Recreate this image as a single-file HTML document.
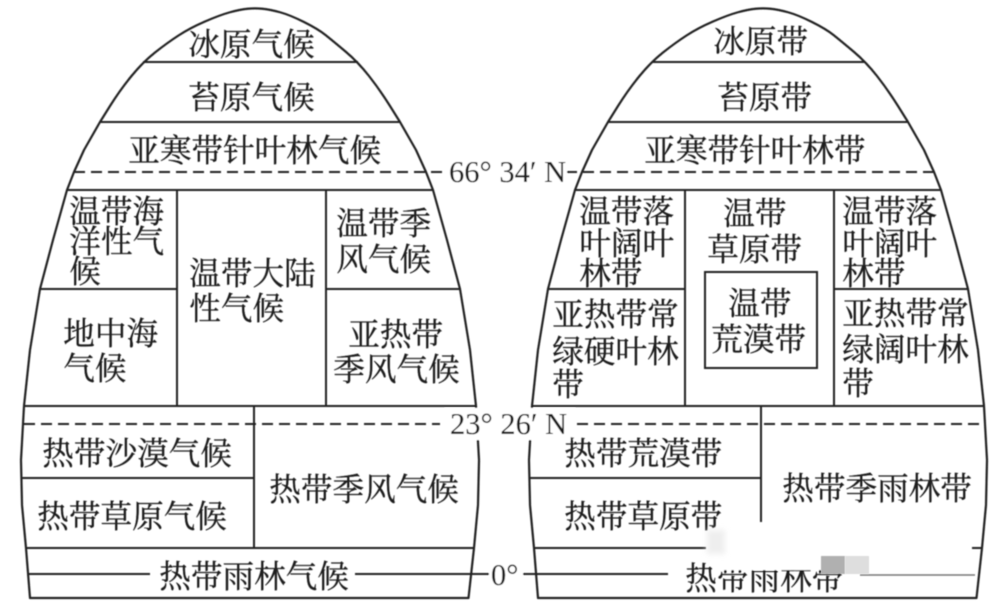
<!DOCTYPE html>
<html><head><meta charset="utf-8">
<style>
html,body{margin:0;padding:0;background:#fff;width:1000px;height:606px;overflow:hidden}
svg{display:block}
text{font-family:"Liberation Serif","Noto Serif CJK SC",serif;font-size:31.6px;fill:#1c1c1c;stroke:#1c1c1c;stroke-width:.3}
text.n{font-size:30.5px;stroke-width:.1}
.s{fill:none;stroke:#222;stroke-width:2.2;stroke-linejoin:round}
.l{stroke:#222;stroke-width:2}
.d{stroke:#222;stroke-width:2;stroke-dasharray:11 6}
</style></head><body>
<svg width="1000" height="606" viewBox="0 0 1000 606" xmlns="http://www.w3.org/2000/svg">
<defs>
<filter id="b" filterUnits="userSpaceOnUse" x="0" y="0" width="1000" height="606"><feGaussianBlur stdDeviation="0.45"/></filter>
<filter id="b2" filterUnits="userSpaceOnUse" x="680" y="510" width="70" height="70"><feGaussianBlur stdDeviation="3"/></filter>
<path id="egg" d="M30 598L26 548L22 505L21 460L24 406L30 350L40 289L53 240L67 190L74 172L84 150L100 122L110 106Q120 90 131.5 76Q143 62 155 52.5Q167 43 178.5 35.5Q190 28 205 21.5Q220 15 230 12.25Q240 9.5 247.5 8.75Q255 8 262.5 8.75Q270 9.5 280 12.25Q290 15 304 22Q318 29 325.5 35Q333 41 345.5 51.5Q358 62 369 76Q380 90 390 106L400 122L416 150L426 172L433 190L447 240L460 289L470 350L476 406L479 460L478 505L474 548L468.5 598Z"/>
</defs>
<rect width="1000" height="606" fill="#fff"/>
<g filter="url(#b)">
<!-- left shape -->
<use href="#egg" class="s"/>
<path class="l" d="M143 62H358M100 122H400M67 190H433M24 406H476M177 190V406M326 190V406M40 289H177M326 289H460M254 406V548M22 478H254M26 548H474"/>
<path class="d" d="M74 172H442M24 424H440"/>
<path class="l" d="M27 574H150M355 574H490"/>
<!-- right shape -->
<use href="#egg" class="s" transform="translate(508,0)"/>
<path class="l" d="M652 62H865M608 122H908M575 190H941M532 406H984M685 190V406M834 190V406M548 289H685M834 289H968M761 406V522M530 478H761M534 548H706M972 548H982"/>
<rect x="705" y="272" width="112" height="96" fill="none" stroke="#222" stroke-width="2"/>
<path class="d" d="M566 172H934M577 424H984"/>
<path class="l" d="M522 574H668"/>
<path d="M860 575H975" stroke="#777" stroke-width="1.5"/>
<!-- degree labels -->
<rect x="445" y="408" width="130" height="32" fill="#fff"/>
<rect x="445" y="160" width="122" height="26" fill="#fff"/>
<text class="n" x="449" y="182">66° 34′ N</text>
<text class="n" x="450" y="434">23° 26′ N</text>
<rect x="489" y="562" width="34" height="24" fill="#fff"/>
<text class="n" x="491" y="585">0°</text>

<g transform="translate(-0.7,1.5)">
<!-- left labels -->
<text x="189" y="54">冰原气候</text>
<text x="189" y="107">苔原气候</text>
<text x="129" y="160">亚寒带针叶林气候</text>
<text x="70" y="221">温带海</text>
<text x="70" y="251">洋性气</text>
<text x="70" y="281">候</text>
<text x="190" y="283">温带大陆</text>
<text x="190" y="318">性气候</text>
<text x="337" y="233">温带季</text>
<text x="337" y="269">风气候</text>
<text x="64" y="343">地中海</text>
<text x="64" y="378">气候</text>
<text x="349" y="344">亚热带</text>
<text x="334" y="379">季风气候</text>
<text x="43" y="463">热带沙漠气候</text>
<text x="38" y="526">热带草原气候</text>
<text x="270" y="499">热带季风气候</text>
<text x="160" y="586">热带雨林气候</text>

<!-- right labels -->
<text x="714" y="51">冰原带</text>
<text x="718" y="107">苔原带</text>
<text x="645" y="160">亚寒带针叶林带</text>
<text x="580" y="221">温带落</text>
<text x="580" y="253">叶阔叶</text>
<text x="580" y="283">林带</text>
<text x="724" y="223">温带</text>
<text x="708" y="259">草原带</text>
<text x="729" y="313">温带</text>
<text x="712" y="349">荒漠带</text>
<text x="843" y="221">温带落</text>
<text x="843" y="253">叶阔叶</text>
<text x="843" y="283">林带</text>
<text x="553" y="324">亚热带常</text>
<text x="553" y="361">绿硬叶林</text>
<text x="553" y="394">带</text>
<text x="843" y="323">亚热带常</text>
<text x="843" y="359">绿阔叶林</text>
<text x="843" y="393">带</text>
<text x="565" y="463">热带荒漠带</text>
<text x="565" y="526">热带草原带</text>
<text x="783" y="498">热带季雨林带</text>
<text x="686" y="588">热带雨林带</text>
</g>
<!-- watermark erasure -->
<rect x="717" y="556" width="126" height="14" fill="#fff"/>
</g>
<rect x="821" y="556" width="24" height="18" fill="#b0b0b0" filter="url(#b)"/>
<rect x="845" y="556" width="24" height="18" fill="#dedede" filter="url(#b)"/>
<rect x="707" y="530" width="18" height="24" fill="#eee" filter="url(#b2)"/>
</svg>
</body></html>
